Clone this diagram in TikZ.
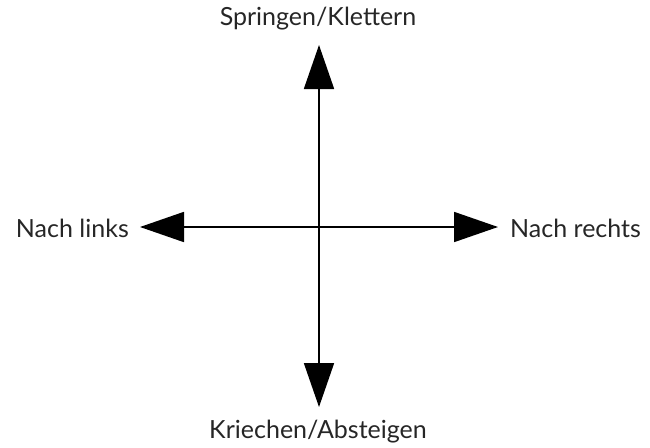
\documentclass[tikz,border=0pt]{standalone}
\usepackage{fontspec}
\setmainfont{Lato}
\usetikzlibrary{arrows.meta}
\tikzset{
  lbl/.style={font=\fontsize{25}{30}\selectfont, text=black!85, inner sep=0pt},
  axis/.style={line width=1.8pt, -{Triangle[length=44pt, width=30pt]}}
}
\begin{document}
\begin{tikzpicture}[x=1pt, y=-1pt]
\useasboundingbox (0,0) rectangle (650,447);
\coordinate (c) at (319,227);
\coordinate (tt) at (319,45);
\coordinate (tb) at (319,407);
\coordinate (tl) at (140,227);
\coordinate (tr) at (498,227);
\draw[axis] (c) -- (tt);
\draw[axis] (c) -- (tb);
\draw[axis] (c) -- (tl);
\draw[axis] (c) -- (tr);
\node[lbl] (top) at (318,19) {Springen/Klettern};
\node[lbl] (bot) at (318,432) {Kriechen/Absteigen};
\node[lbl, anchor=east] (left) at (129,228) {Nach links};
\node[lbl, anchor=west] (right) at (510,228) {Nach rechts};
\end{tikzpicture}
\end{document}
